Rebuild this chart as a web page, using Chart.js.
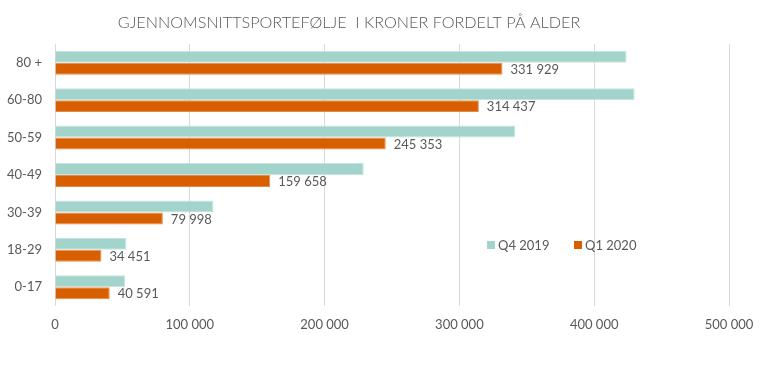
<!DOCTYPE html>
<html>
<head>
<meta charset="utf-8">
<script src="https://cdn.jsdelivr.net/npm/chart.js@4/dist/chart.umd.min.js"></script>
<style>
    html, body { margin: 0; padding: 0; background: #fff; }
    #wrap { width: 767px; height: 374px; }
</style>
</head>
<body>
<div id="wrap"><canvas id="chart" width="767" height="374"></canvas></div>
<script>
// Data
const categories = ['80 +', '60-80', '50-59', '40-49', '30-39', '18-29', '0-17'];
const q4_2019 = [424000, 430000, 341500, 229000, 117500, 53000, 52000];
const q1_2020 = [331929, 314437, 245353, 159658, 79998, 34451, 40591];
const xTicks = [0, 100000, 200000, 300000, 400000, 500000];

const TITLE = 'GJENNOMSNITTSPORTEFØLJE  I KRONER FORDELT PÅ ALDER';
const TEXT_COLOR = '#595959';
const TEAL = '#a2d4cb';
const ORANGE = '#d75f00';

function fmt(n) {
    return String(n).replace(/\B(?=(\d{3})+(?!\d))/g, ' ');
}

// --- Title, value labels and legend drawn by hand ---
const extras = {
    id: 'extras',
    afterDraw(chart) {
        const ctx = chart.ctx;
        ctx.save();

        // Title
        ctx.fillStyle = TEXT_COLOR;
        ctx.font = '300 16.2px Lato';
        ctx.textAlign = 'center';
        ctx.textBaseline = 'middle';
        ctx.fillText(TITLE, 349, 23);

        // Value labels on the Q1 2020 bars
        ctx.font = '13px Lato';
        ctx.textAlign = 'left';
        const meta = chart.getDatasetMeta(1);
        meta.data.forEach((bar, i) => {
            ctx.fillText(fmt(q1_2020[i]), bar.x + 8, bar.y + 1);
        });

        // Legend
        const items = [
            { label: 'Q4 2019', color: TEAL, x: 487 },
            { label: 'Q1 2020', color: ORANGE, x: 574 }
        ];
        items.forEach(it => {
            ctx.fillStyle = it.color;
            ctx.fillRect(it.x, 241, 8, 8);
            ctx.fillStyle = TEXT_COLOR;
            ctx.fillText(it.label, it.x + 11, 245.5);
        });

        ctx.restore();
    }
};

const ctx = document.getElementById('chart').getContext('2d');
new Chart(ctx, {
    type: 'bar',
    data: {
        labels: categories,
        datasets: [
            {
                label: 'Q4 2019',
                data: q4_2019,
                backgroundColor: TEAL,
                borderColor: '#c4e5df',
                borderWidth: 1,
                categoryPercentage: 0.64,
                barPercentage: 1.0
            },
            {
                label: 'Q1 2020',
                data: q1_2020,
                backgroundColor: ORANGE,
                borderColor: '#e58a4a',
                borderWidth: 1,
                categoryPercentage: 0.64,
                barPercentage: 1.0
            }
        ]
    },
    options: {
        indexAxis: 'y',
        responsive: false,
        animation: false,
        layout: { padding: { top: 44, right: 38, bottom: 28, left: 0 } },
        scales: {
            x: {
                min: 0,
                max: 500000,
                afterBuildTicks: (scale) => { scale.ticks = xTicks.map(v => ({ value: v })); },
                afterFit: (scale) => { scale.height = 40; },
                grid: { color: '#d9d9d9', drawTicks: false },
                border: { display: false },
                ticks: {
                    padding: 11,
                    color: TEXT_COLOR,
                    font: { family: 'Lato', size: 13 },
                    callback: (v) => fmt(v)
                }
            },
            y: {
                afterFit: (scale) => { scale.width = 55; },
                grid: { display: false, drawTicks: false },
                border: { display: false },
                ticks: {
                    padding: 13,
                    color: TEXT_COLOR,
                    font: { family: 'Lato', size: 13 }
                }
            }
        },
        plugins: {
            legend: { display: false },
            title: { display: false },
            tooltip: { enabled: false }
        }
    },
    plugins: [extras]
});
</script>
</body>
</html>
